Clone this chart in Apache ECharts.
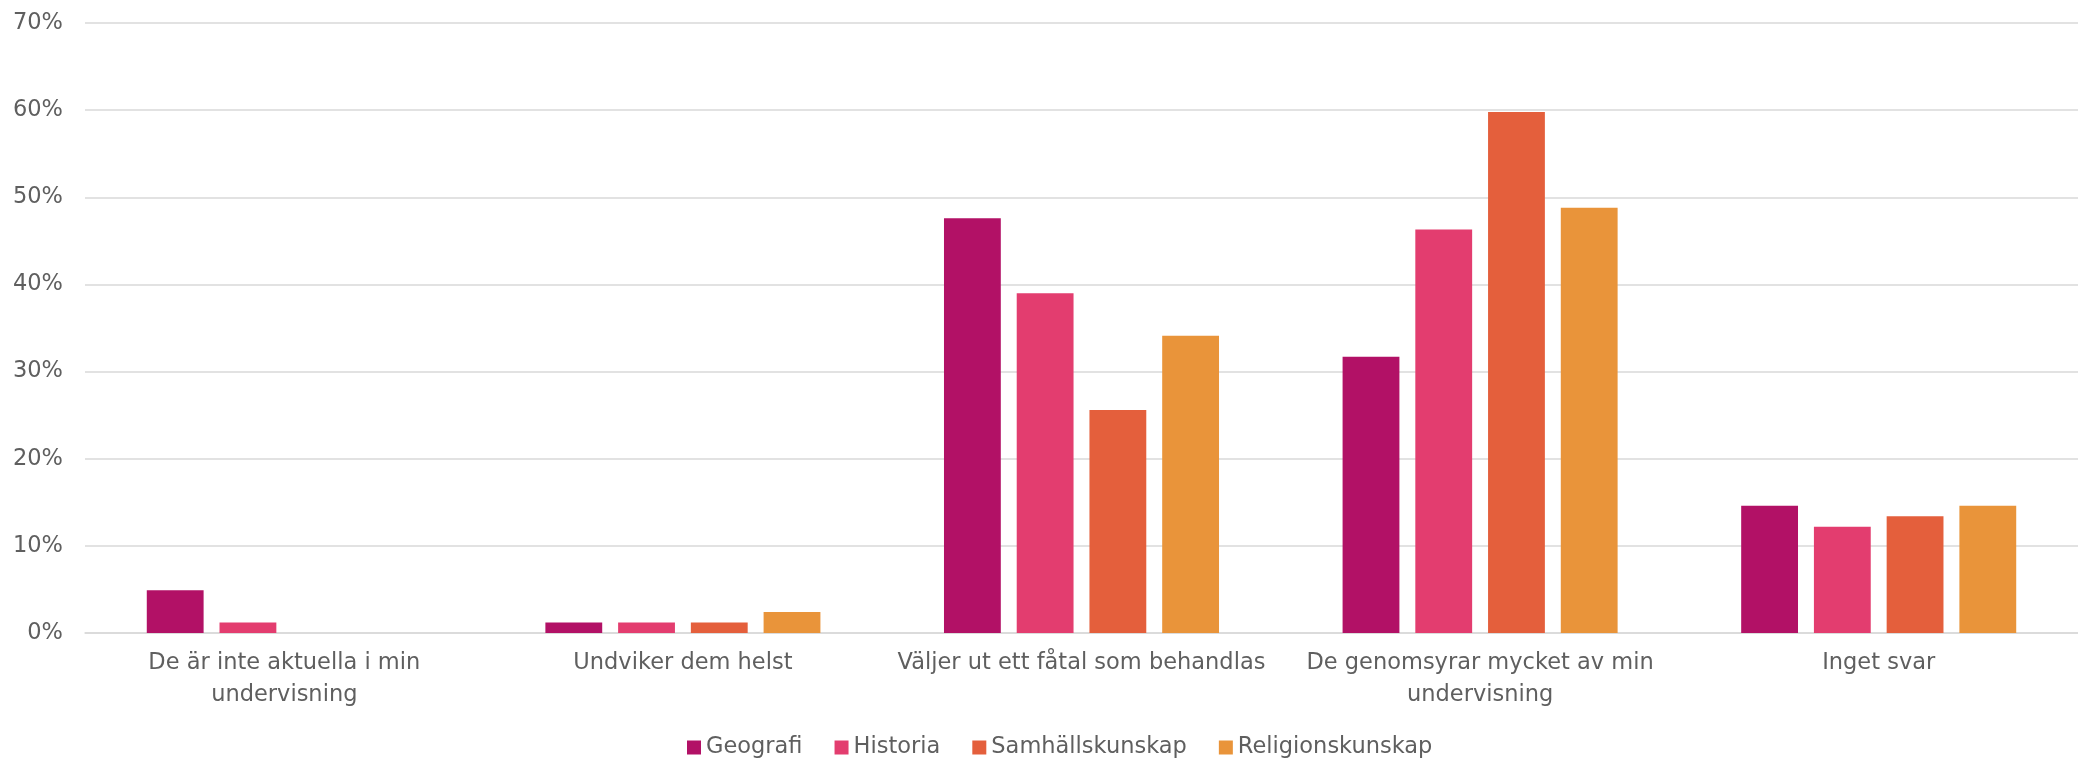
<!DOCTYPE html>
<html>
<head>
<meta charset="utf-8">
<script src="https://cdn.jsdelivr.net/npm/echarts@6/dist/echarts.min.js"></script>
<style>
  html, body { margin: 0; padding: 0; background: #fff; }
  #main { width: 2078px; height: 760px; }
</style>
</head>
<body>
<div id="main"></div>
<script>
// kategorier och värden (andel i procent)
var categories = [
  'De är inte aktuella i min\nundervisning',
  'Undviker dem helst',
  'Väljer ut ett fåtal som behandlas',
  'De genomsyrar mycket av min\nundervisning',
  'Inget svar'
];
var geografi = [4.9, 1.2, 47.6, 31.7, 14.6];
var historia = [1.2, 1.2, 39.0, 46.3, 12.2];
var samhallskunskap = [0, 1.2, 25.6, 59.8, 13.4];
var religionskunskap = [0, 2.4, 34.1, 48.8, 14.6];
var seriesNames = ['Geografi', 'Historia', 'Samhällskunskap', 'Religionskunskap'];
var colors = ['#B21166', '#E33D6F', '#E45F3C', '#E9943A'];

var font = '"DejaVu Sans", sans-serif';
var textColor = '#5f5f5f';
var fontSize = 22.5;

var myChart = echarts.init(document.getElementById('main'));

function bar(name, data) {
  return {
    name: name,
    type: 'bar',
    data: data,
    barGap: '28%',
    barCategoryGap: '31%'
  };
}

myChart.setOption({
  backgroundColor: '#fff',
  animation: false,
  color: colors,
  textStyle: { fontFamily: font },
  grid: {
    left: 85,
    right: 0,
    top: 23,
    bottom: 127
  },
  legend: {
    data: seriesNames,
    left: 682,
    top: 731,
    icon: 'rect',
    itemWidth: 14,
    itemHeight: 14,
    itemGap: 32,
    textStyle: {
      color: textColor,
      fontSize: fontSize,
      fontFamily: font
    }
  },
  xAxis: {
    type: 'category',
    data: categories,
    axisTick: { show: false },
    axisLine: { lineStyle: { color: '#d9d9d9', width: 1.5 } },
    axisLabel: {
      color: textColor,
      fontSize: fontSize,
      fontFamily: font,
      margin: 14,
      lineHeight: 32,
      interval: 0
    }
  },
  yAxis: {
    type: 'value',
    min: 0,
    max: 70,
    interval: 10,
    axisLine: { show: false },
    axisTick: { show: false },
    splitLine: { lineStyle: { color: '#d9d9d9', width: 1.5 } },
    axisLabel: {
      color: textColor,
      fontSize: fontSize,
      fontFamily: font,
      margin: 22,
      formatter: '{value}%'
    }
  },
  series: [
    bar(seriesNames[0], geografi),
    bar(seriesNames[1], historia),
    bar(seriesNames[2], samhallskunskap),
    bar(seriesNames[3], religionskunskap)
  ]
});
</script>
</body>
</html>
